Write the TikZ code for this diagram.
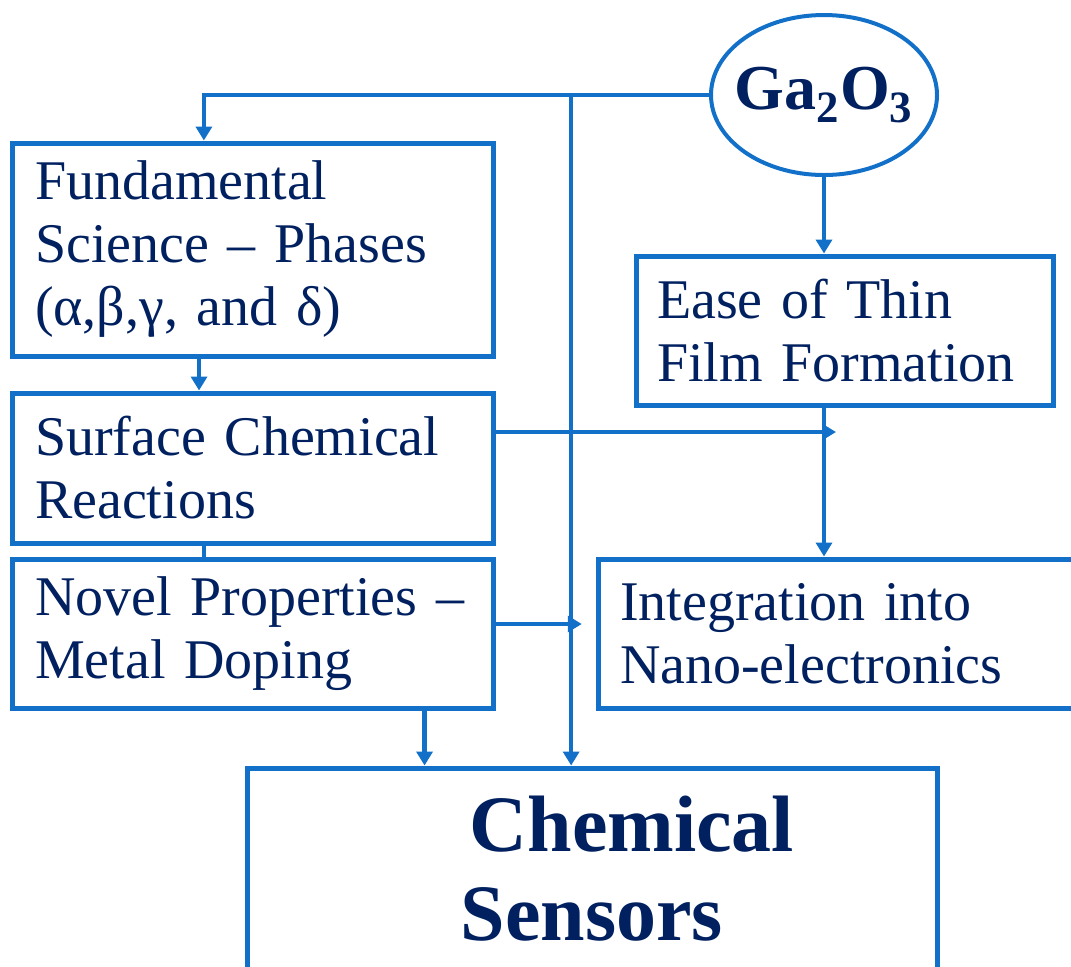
\documentclass[tikz,border=0pt]{standalone}
\usepackage{fontspec}
\setmainfont{Liberation Serif}
\usetikzlibrary{
  shapes.geometric,
  positioning,
  calc,
  arrows.meta
  }
\definecolor{linkblue}{RGB}{18,112,200}
\definecolor{navy}{RGB}{0,32,96}
\tikzset{
  >={Triangle[length=7pt,width=8pt]},
  flow/.style={line width=2.2pt, draw=linkblue},
  blk/.style={draw=linkblue, line width=2.5pt, align=left, text=navy, inner sep=0pt,
    font=\fontsize{28}{31.5}\selectfont},
  oval/.style={ellipse, draw=linkblue, line width=2pt, text=navy, inner xsep=-5pt, inner ysep=0pt,
    font=\bfseries\fontsize{32}{36}\selectfont},
  bigblk/.style={draw=linkblue, line width=2.5pt, align=center, text=navy, inner sep=0pt,
    font=\bfseries\fontsize{40}{44.5}\selectfont},
}

\begin{document}
\begin{tikzpicture}[x=0.5pt, y=-0.5pt]
  \useasboundingbox (0,0) rectangle (1071,966);
% =========================================================
% (A) source and blocks
% =========================================================
  \node[oval, minimum width=113pt, minimum height=80pt] (ga) at (824,95) {Ga\textsubscript{2}O\textsubscript{3}};
  \node[blk, minimum width=240.5pt, minimum height=106.5pt, text width=217.5pt] (fund) at (252.5,249.5)
    {Fundamental\\Science – Phases\\(α,β,γ, and δ)};
  \node[blk, minimum width=240.5pt, minimum height=75pt, text width=217.5pt] (surf) at (252.5,468)
    {Surface Chemical\\Reactions};
  \node[blk, minimum width=240.5pt, minimum height=74.5pt, text width=217.5pt] (novel) at (252.5,633.5)
    {Novel Properties –\\Metal Doping};
  \node[blk, minimum width=208.5pt, minimum height=74.5pt, text width=187.5pt] (ease) at (844.5,330.5)
    {Ease of Thin\\Film Formation};
  \node[blk, minimum width=241pt, minimum height=74.5pt, text width=219pt] (integ) at (839,633.5)
    {Integration into\\Nano-electronics};
  \node[bigblk, minimum width=345pt, minimum height=101pt] (chem) at (592,869)
    {\hspace*{40pt}Chemical\\Sensors};
% =========================================================
% (B) connectors
% =========================================================
  \coordinate (fl) at ($(fund.north west)!0.4!(fund.north east)$);
  \coordinate (sp) at ($(chem.north west)!0.47!(chem.north east)$);
  \coordinate (fs) at ($(fund.south west)!0.39!(fund.south east)$);
  \coordinate (sn) at ($(surf.south west)!0.4!(surf.south east)$);
  \coordinate (nb) at ($(novel.south west)!0.854!(novel.south east)$);
  \coordinate (se) at ([yshift=18pt]surf.east);
  \coordinate (ne) at ([yshift=4.75pt]novel.east);
  \coordinate (jt) at ($(ga.south |- se)+(6pt,0)$);
  \coordinate (nt) at ($(sp |- ne)+(5.3pt,0)$);

  \draw[flow,->] (ga.west) -| (fl);
  \draw[flow,->] (sp |- ga.west) -- (sp);
  \draw[flow,->] (ga.south) -- (ga.south |- ease.north);
  \draw[flow,->] (fs) -- (fs |- surf.north);
  \draw[flow] (sn) -- (sn |- novel.north);
  \draw[flow,->] (se) -- (jt);
  \draw[flow,->] (ga.south |- ease.south) -- (ga.south |- integ.north);
  \draw[flow,->] (ne) -- (nt);
  \draw[flow,->] (nb) -- (nb |- chem.north);
\end{tikzpicture}
\end{document}
